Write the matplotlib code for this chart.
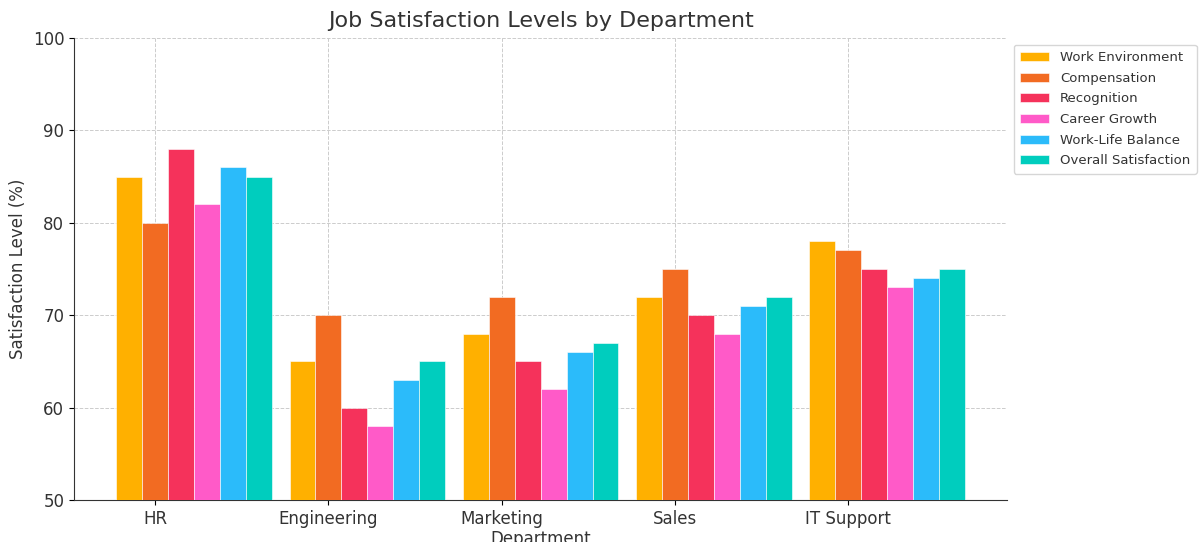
import numpy as np
import matplotlib
matplotlib.use("Agg")
import matplotlib.pyplot as plt

# Data
departments = ["HR", "Engineering", "Marketing", "Sales", "IT Support"]
factors = ["Work Environment", "Compensation", "Recognition",
           "Career Growth", "Work-Life Balance", "Overall Satisfaction"]
work_env = [85, 65, 68, 72, 78]
compensation = [80, 70, 72, 75, 77]
recognition = [88, 60, 65, 70, 75]
career_growth = [82, 58, 62, 68, 73]
work_life = [86, 63, 66, 71, 74]
overall = [85, 65, 67, 72, 75]

series = [work_env, compensation, recognition, career_growth, work_life, overall]
colors = ["#FFB000", "#F26B22", "#F5325B", "#FF5AC8", "#2BBBFA", "#00CDBE"]

plt.rcParams['font.family'] = ['DejaVu Sans']
textColor = "#333333"

fig = plt.figure(figsize=(12.01, 5.42), dpi=100)
ax = fig.add_axes([0.0616, 0.0775, 0.777, 0.8525])

x = np.arange(len(departments))
width = 0.15
for i, (vals, name, c) in enumerate(zip(series, factors, colors)):
    ax.bar(x + (i - 1) * width, vals, width, label=name, color=c,
           edgecolor="white", linewidth=0.4, zorder=3)

ax.set_ylim(50, 100)
ax.set_xticks(x)
ax.set_xticklabels(departments, fontsize=12, color=textColor)
ax.tick_params(axis="y", labelsize=12, labelcolor=textColor)
ax.set_xlabel("Department", fontsize=12, color=textColor, labelpad=2)
ax.set_ylabel("Satisfaction Level (%)", fontsize=12, color=textColor)
ax.set_title("Job Satisfaction Levels by Department", fontsize=16, color=textColor, pad=8)

ax.grid(True, linestyle="--", color="#cccccc", linewidth=0.7, zorder=0)
ax.spines["top"].set_visible(False)
ax.spines["right"].set_visible(False)
ax.spines["left"].set_color("#333333")
ax.spines["bottom"].set_color("#333333")

leg = ax.legend(loc="upper left", bbox_to_anchor=(1.0, 1.0), fontsize=9.5,
                frameon=True, borderpad=0.5, handlelength=2.2, labelspacing=0.58)
for t in leg.get_texts():
    t.set_color(textColor)

fig.savefig("out.png", dpi=100)
